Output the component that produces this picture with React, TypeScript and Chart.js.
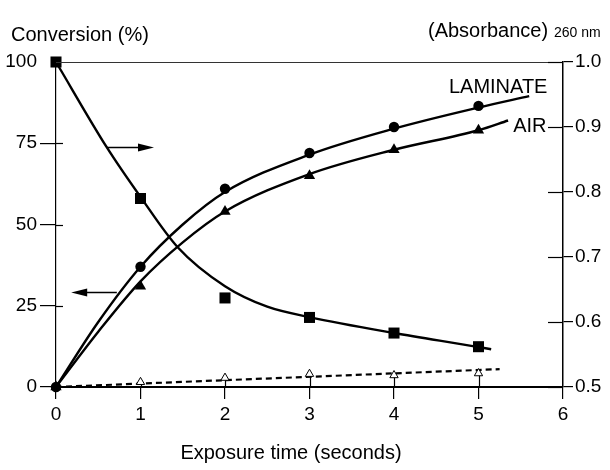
import React, { useEffect, useRef } from "react";
import { Chart, registerables } from "chart.js";

Chart.register(...registerables);

const FONT = "'Liberation Sans', Arial, Helvetica, sans-serif";

// ---- measured points ----
const timeSec = [0, 1, 2, 3, 4, 5];
const laminateConv = [0, 37, 61, 72, 80, 86.5];
const airConv = [0, 31, 54, 65, 73, 79];
const absorbance260 = [1.0, 0.79, 0.637, 0.607, 0.583, 0.562];
const controlConv = [0, 1.5, 2.8, 4.0, 3.6, 4.2];

// ---- fitted curves ----
const laminateFitT = [0, 0.5, 1, 1.5, 2, 3, 4, 5, 5.6];
const laminateFitY = [0, 20, 37, 50, 60, 71.5, 79.5, 86, 89.5];
const airFitT = [0, 0.5, 1, 1.5, 2, 3, 4, 5, 5.35];
const airFitY = [0, 17, 32.5, 44.5, 54, 65.5, 73, 79, 82];
const absFitT = [0, 0.6, 1, 1.44, 2, 2.5, 3, 4, 5, 5.15];
const absFitY = [1.0, 0.869, 0.7925, 0.715, 0.655, 0.6235, 0.6075, 0.583, 0.5615, 0.558];
const controlTrendT = [0, 5.25];
const controlTrendY = [0, 5.5];

// ---- axes ----
const leftTicks = [0, 25, 50, 75, 100];
const rightTicks = [0.5, 0.6, 0.7, 0.8, 0.9, 1.0];

// ---- annotations (data units, left axis) ----
const arrowFromT = [0.6, 0.72];
const arrowToT = [1.16, 0.18];
const arrowY = [73.8, 29.2];
const curveLabels = ["LAMINATE", "AIR"];
const curveLabelT = [4.65, 5.41];
const curveLabelY = [92.3, 80.3];

const texts = {
  left: "Conversion (%)",
  right: "(Absorbance)",
  rightSub: "260 nm",
  x: "Exposure time (seconds)",
};

const pts = (xs: number[], ys: number[]) => xs.map((x, i) => ({ x, y: ys[i] }));

const decorPlugin = {
  id: "decor",
  afterDatasetsDraw(chart: any) {
    const { ctx, chartArea, scales } = chart;
    const xs = scales.x;
    const yl = scales.y;
    const yr = scales.y1;
    const line = (x1: number, y1: number, x2: number, y2: number) => {
      ctx.beginPath();
      ctx.moveTo(x1, y1);
      ctx.lineTo(x2, y2);
      ctx.stroke();
    };
    ctx.save();
    // top frame
    ctx.strokeStyle = "#333";
    ctx.lineWidth = 1;
    line(chartArea.left, chartArea.top + 0.5, chartArea.right, chartArea.top + 0.5);
    // inner tick parts
    ctx.strokeStyle = "#000";
    ctx.lineWidth = 1.2;
    leftTicks.forEach((v) => {
      if (v === 0 || v === 100) return;
      const py = Math.round(yl.getPixelForValue(v)) + 0.5;
      line(chartArea.left, py, chartArea.left + 7, py);
    });
    rightTicks.forEach((v) => {
      const py = Math.round(yr.getPixelForValue(v)) + 0.5;
      line(chartArea.right - 15, py, chartArea.right, py);
    });
    // vertical lines under control markers
    const meta = chart.getDatasetMeta(3);
    meta.data.forEach((p: any, i: number) => {
      if (i === 0) return;
      line(Math.round(p.x) + 0.5, p.y + 2.5, Math.round(p.x) + 0.5, chartArea.bottom);
    });
    // arrows
    ctx.fillStyle = "#000";
    ctx.lineWidth = 1.4;
    arrowY.forEach((yv, i) => {
      const x1 = xs.getPixelForValue(arrowFromT[i]);
      const x2 = xs.getPixelForValue(arrowToT[i]);
      const py = Math.round(yl.getPixelForValue(yv)) + 0.5;
      const dir = Math.sign(x2 - x1);
      line(x1, py, x2 - dir * 12, py);
      ctx.beginPath();
      ctx.moveTo(x2, py);
      ctx.lineTo(x2 - dir * 16, py - 4);
      ctx.lineTo(x2 - dir * 16, py + 4);
      ctx.closePath();
      ctx.fill();
    });
    ctx.restore();
  },
  afterDraw(chart: any) {
    const { ctx, scales } = chart;
    ctx.save();
    ctx.fillStyle = "#000";
    ctx.font = `20px ${FONT}`;
    ctx.textBaseline = "middle";
    ctx.textAlign = "left";
    ctx.fillText(texts.left, 11, 35);
    ctx.fillText(texts.right, 428, 31);
    curveLabels.forEach((s, i) => {
      ctx.fillText(s, scales.x.getPixelForValue(curveLabelT[i]), scales.y.getPixelForValue(curveLabelY[i]));
    });
    ctx.textAlign = "center";
    ctx.fillText(texts.x, 291, 453);
    ctx.textAlign = "left";
    ctx.textBaseline = "alphabetic";
    ctx.font = `14px ${FONT}`;
    ctx.fillText(texts.rightSub, 554, 37);
    ctx.restore();
  },
};

export default function App() {
  const ref = useRef<HTMLCanvasElement | null>(null);
  useEffect(() => {
    if (!ref.current) return;
    const tickFont = { family: FONT, size: 19 };
    const chart = new Chart(ref.current, {
      type: "line",
      data: {
        datasets: [
          {
            data: pts(timeSec, laminateConv),
            yAxisID: "y",
            showLine: false,
            pointStyle: "circle",
            pointRadius: 5.2,
            pointBackgroundColor: "#000",
            pointBorderColor: "#000",
            pointBorderWidth: 0,
            order: 0,
            clip: false,
          },
          {
            data: pts(timeSec, airConv),
            yAxisID: "y",
            showLine: false,
            pointStyle: "triangle",
            pointRadius: 6.5,
            pointBackgroundColor: "#000",
            pointBorderColor: "#000",
            pointBorderWidth: 0,
            order: 0,
            clip: false,
          },
          {
            data: pts(timeSec, absorbance260),
            yAxisID: "y1",
            showLine: false,
            pointStyle: "rect",
            pointRadius: 7.8,
            pointBackgroundColor: "#000",
            pointBorderColor: "#000",
            pointBorderWidth: 0,
            order: 0,
            clip: false,
          },
          {
            data: pts(timeSec, controlConv),
            yAxisID: "y",
            showLine: false,
            pointStyle: "triangle",
            pointRadius: 4.8,
            pointBackgroundColor: "#fff",
            pointBorderColor: "#000",
            pointBorderWidth: 1,
            order: 1,
            clip: false,
          },
          {
            data: pts(laminateFitT, laminateFitY),
            yAxisID: "y",
            borderColor: "#000",
            borderWidth: 2.4,
            pointRadius: 0,
            cubicInterpolationMode: "monotone",
            order: 2,
            clip: false,
          },
          {
            data: pts(airFitT, airFitY),
            yAxisID: "y",
            borderColor: "#000",
            borderWidth: 2.4,
            pointRadius: 0,
            cubicInterpolationMode: "monotone",
            order: 2,
            clip: false,
          },
          {
            data: pts(absFitT, absFitY),
            yAxisID: "y1",
            borderColor: "#000",
            borderWidth: 2.4,
            pointRadius: 0,
            cubicInterpolationMode: "monotone",
            order: 2,
            clip: false,
          },
          {
            data: pts(controlTrendT, controlTrendY),
            yAxisID: "y",
            borderColor: "#000",
            borderWidth: 2.2,
            borderDash: [6, 4],
            pointRadius: 0,
            order: 2,
            clip: false,
          },
        ],
      },
      options: {
        responsive: false,
        animation: false,
        devicePixelRatio: 1,
        layout: { padding: { top: 62, left: 0, right: 0, bottom: 0 } },
        plugins: {
          legend: { display: false },
          tooltip: { enabled: false },
          title: { display: false },
        },
        scales: {
          x: {
            type: "linear",
            position: "bottom",
            min: 0,
            max: 6,
            ticks: { stepSize: 1, font: tickFont, color: "#000", padding: 4, maxRotation: 0, autoSkip: false },
            grid: { drawOnChartArea: false, drawTicks: true, tickLength: 12, color: "#000", lineWidth: 1.2 },
            border: { display: true, color: "#000", width: 2 },
            afterFit: (s: any) => {
              s.height = 83;
            },
          },
          y: {
            type: "linear",
            position: "left",
            min: 0,
            max: 100,
            ticks: { stepSize: 25, font: tickFont, color: "#000", padding: 3 },
            grid: {
              drawOnChartArea: false,
              drawTicks: true,
              tickLength: 16,
              lineWidth: 1.2,
              color: (c: any) => (c.tick && c.tick.value === 100 ? "rgba(0,0,0,0)" : "#000"),
            },
            border: { display: true, color: "#000", width: 1.2 },
            afterFit: (s: any) => {
              s.width = 56;
            },
          },
          y1: {
            type: "linear",
            position: "right",
            min: 0.5,
            max: 1.0,
            ticks: {
              stepSize: 0.1,
              font: tickFont,
              color: "#000",
              padding: 2,
              callback: (v: any) => Number(v).toFixed(1),
            },
            grid: { drawOnChartArea: false, drawTicks: true, tickLength: 10, color: "#000", lineWidth: 1.2 },
            border: { display: true, color: "#000", width: 1.5 },
            afterFit: (s: any) => {
              s.width = 47;
            },
          },
        },
      },
      plugins: [decorPlugin],
    } as any);
    return () => chart.destroy();
  }, []);
  return (
    <div style={{ position: "absolute", left: 0, top: 0, width: 610, height: 470, background: "#fff" }}>
      <canvas ref={ref} width={610} height={470} style={{ display: "block", width: 610, height: 470 }} />
    </div>
  );
}
